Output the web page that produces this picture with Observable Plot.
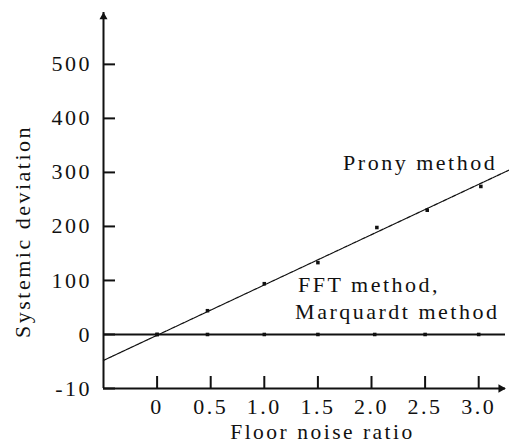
<!DOCTYPE html>
<html>
<head>
<meta charset="utf-8">
<script src="https://cdn.jsdelivr.net/npm/d3@7"></script>
<script src="https://cdn.jsdelivr.net/npm/@observablehq/plot@0.6"></script>
<style>
  html, body { margin: 0; padding: 0; background: #fff; }
</style>
</head>
<body>
<div id="chart"></div>
<script>
// ---- data ----
const xDomain = [-0.5, 3.25];
const yDomain = [-100, 596];
const xTicks = [0, 0.5, 1.0, 1.5, 2.0, 2.5, 3.0];
const xTickLabels = ["0", "0.5", "1.0", "1.5", "2.0", "2.5", "3.0"];
const yTicks = [-100, 0, 100, 200, 300, 400, 500];
const yTickLabels = ["-10", "0", "100", "200", "300", "400", "500"];

const pronyX = [0, 0.47, 1.0, 1.5, 2.05, 2.52, 3.02];
const pronyY = [0, 44, 94, 133, 198, 230, 274];
const fftX = [0, 0.47, 1.0, 1.5, 2.03, 2.5, 3.0];
const fftY = [0, 0, 0, 0, 0, 0, 0];
const fitX = [-0.5, 3.28];
const fitY = [-48, 304];

const labels = [
  {text: "Prony method", x: 1.735, y: 318},
  {text: "FFT method,", x: 1.315, y: 91},
  {text: "Marquardt method", x: 1.287, y: 41}
];

const prony = pronyX.map((x, i) => ({x, y: pronyY[i]}));
const fft = fftX.map((x, i) => ({x, y: fftY[i]}));
const fit = fitX.map((x, i) => ({x, y: fitY[i]}));

const chart = Plot.plot({
  width: 509,
  height: 443,
  marginLeft: 103,
  marginRight: 4,
  marginTop: 12,
  marginBottom: 55,
  style: {fontFamily: "'Liberation Serif', 'Times New Roman', serif", fontSize: "22px", letterSpacing: "2.5px", color: "#111", background: "#fff"},
  x: {domain: xDomain},
  y: {domain: yDomain},
  marks: [
    // axis lines
    Plot.ruleX([xDomain[0]], {y1: yDomain[0], y2: yDomain[1], strokeWidth: 2, stroke: "#111"}),
    Plot.ruleY([yDomain[0]], {x1: xDomain[0], x2: xDomain[1], strokeWidth: 2, stroke: "#111"}),
    Plot.dot([0], {x: () => xDomain[0], y: () => yDomain[1], symbol: "triangle", r: 3, fill: "#111", stroke: null, dy: 4.5}),
    Plot.dot([0], {x: () => xDomain[1], y: () => yDomain[0], symbol: "triangle", r: 3.2, fill: "#111", stroke: null, rotate: 90, dx: -4.6}),
    // axes
    Plot.axisY({ticks: yTicks, tickFormat: d => yTickLabels[yTicks.indexOf(d)], tickSize: -12, tickPadding: 23.5, strokeWidth: 2, label: null, fontSize: 22}),
    Plot.axisX({ticks: xTicks, tickFormat: d => xTickLabels[xTicks.indexOf(d)], tickSize: -12, tickPadding: 22, strokeWidth: 2, label: null, fontSize: 22}),
    // zero line (FFT / Marquardt)
    Plot.ruleY([0], {x1: xDomain[0], x2: xDomain[1], strokeWidth: 2, stroke: "#111"}),
    // Prony fit line
    Plot.line(fit, {x: "x", y: "y", stroke: "#111", strokeWidth: 1.2, strokeDasharray: "4,1"}),
    Plot.dot(fft, {x: "x", y: "y", symbol: "square", r: 2, fill: "#111", stroke: null}),
    Plot.dot(prony, {x: "x", y: "y", symbol: "square", r: 2, fill: "#111", stroke: null}),
    Plot.text(labels, {x: "x", y: "y", text: "text", textAnchor: "start", fontSize: 22, fill: "#111"}),
    // axis titles
    Plot.text(["Floor noise ratio"], {frameAnchor: "bottom", textAnchor: "middle", lineAnchor: "middle", dy: 43.5, dx: 18, fontSize: 21.5, fill: "#111"}),
    Plot.text(["Systemic deviation"], {frameAnchor: "left", textAnchor: "middle", lineAnchor: "middle", rotate: -90, dx: -81, dy: 31, fontSize: 22, fill: "#111"})
  ]
});
document.getElementById("chart").appendChild(chart);
</script>
</body>
</html>
